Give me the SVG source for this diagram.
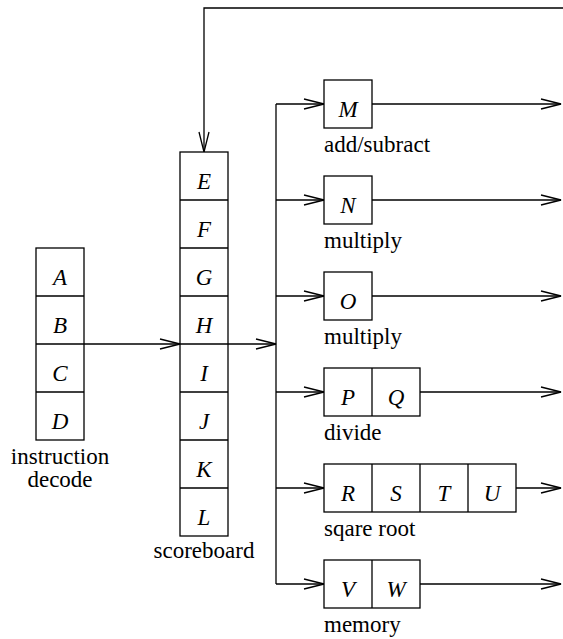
<svg xmlns="http://www.w3.org/2000/svg" width="563" height="639" viewBox="0 0 563 639">
<style>
.box{fill:#fff;stroke:#000;stroke-width:1.3}
.ln{fill:none;stroke:#000;stroke-width:1.3}
.arr{fill:none;stroke:#000;stroke-width:1.3;marker-end:url(#ah)}
.cl{font-style:italic;text-anchor:middle}
.mid{text-anchor:middle}
</style>
<defs>
<marker id="ah" markerUnits="userSpaceOnUse" markerWidth="24" markerHeight="14" viewBox="-22 -7 24 14" refX="0" refY="0" orient="auto" overflow="visible">
<path d="M-20,-5 L0,0 L-20,5" fill="none" stroke="#000" stroke-width="1.3"/>
</marker>
</defs>
<g id="connectors">
<path class="arr" d="M563,8 H204 V152"/>
<path class="arr" d="M84,344 H180"/>
<path class="arr" d="M228,344 H276"/>
<path class="ln" d="M276,104 V584"/>
<path class="arr" d="M276,104 H324"/>
<path class="arr" d="M276,200 H324"/>
<path class="arr" d="M276,296 H324"/>
<path class="arr" d="M276,392 H324"/>
<path class="arr" d="M276,488 H324"/>
<path class="arr" d="M276,584 H324"/>
<path class="arr" d="M372,104 H561"/>
<path class="arr" d="M372,200 H561"/>
<path class="arr" d="M372,296 H561"/>
<path class="arr" d="M420,392 H561"/>
<path class="arr" d="M516,488 H561"/>
<path class="arr" d="M420,584 H561"/>
</g>
<g font-family="Liberation Serif, DejaVu Serif, serif" font-size="23" fill="#000">
<g id="decode">
<rect class="box" x="36" y="248" width="48" height="192"/>
<path class="ln" d="M36,296 H84 M36,344 H84 M36,392 H84"/>
<text class="cl" x="60" y="285">A</text>
<text class="cl" x="60" y="333">B</text>
<text class="cl" x="60" y="381">C</text>
<text class="cl" x="60" y="429">D</text>
<text class="mid" x="60" y="464">instruction</text>
<text class="mid" x="60" y="487">decode</text>
</g>
<g id="scoreboard">
<rect class="box" x="180" y="152" width="48" height="384"/>
<path class="ln" d="M180,200 H228 M180,248 H228 M180,296 H228 M180,344 H228 M180,392 H228 M180,440 H228 M180,488 H228"/>
<text class="cl" x="204" y="189">E</text>
<text class="cl" x="204" y="237">F</text>
<text class="cl" x="204" y="285">G</text>
<text class="cl" x="204" y="333">H</text>
<text class="cl" x="204" y="381">I</text>
<text class="cl" x="204" y="429">J</text>
<text class="cl" x="204" y="477">K</text>
<text class="cl" x="204" y="525">L</text>
<text class="mid" x="204" y="558">scoreboard</text>
</g>
<g id="addsub">
<rect class="box" x="324" y="80" width="48" height="48"/>
<text class="cl" x="348" y="117">M</text>
<text x="324" y="152">add/subract</text>
</g>
<g id="multiply1">
<rect class="box" x="324" y="176" width="48" height="48"/>
<text class="cl" x="348" y="213">N</text>
<text x="324" y="248">multiply</text>
</g>
<g id="multiply2">
<rect class="box" x="324" y="272" width="48" height="48"/>
<text class="cl" x="348" y="309">O</text>
<text x="324" y="344">multiply</text>
</g>
<g id="divide">
<rect class="box" x="324" y="368" width="96" height="48"/>
<path class="ln" d="M372,368 V416"/>
<text class="cl" x="348" y="405">P</text>
<text class="cl" x="396" y="405">Q</text>
<text x="324" y="440">divide</text>
</g>
<g id="sqrt">
<rect class="box" x="324" y="464" width="192" height="48"/>
<path class="ln" d="M372,464 V512 M420,464 V512 M468,464 V512"/>
<text class="cl" x="348" y="501">R</text>
<text class="cl" x="396" y="501">S</text>
<text class="cl" x="444" y="501">T</text>
<text class="cl" x="492" y="501">U</text>
<text x="324" y="536">sqare root</text>
</g>
<g id="memory">
<rect class="box" x="324" y="560" width="96" height="48"/>
<path class="ln" d="M372,560 V608"/>
<text class="cl" x="348" y="597">V</text>
<text class="cl" x="396" y="597">W</text>
<text x="324" y="632">memory</text>
</g>
</g>
</svg>
